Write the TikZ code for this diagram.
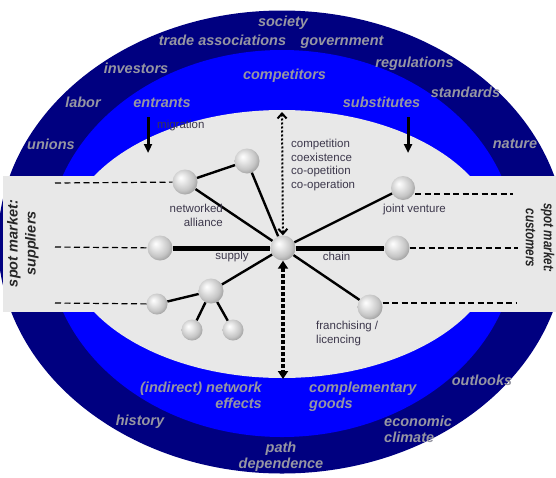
\documentclass[tikz,border=0pt]{standalone}
\usepackage{fontspec}
\setmainfont{Liberation Sans}
\usetikzlibrary{arrows.meta, calc}
\definecolor{ringnavy}{RGB}{0,0,128}
\definecolor{ringblue}{RGB}{0,0,255}
\definecolor{corefill}{RGB}{232,232,232}
\definecolor{ringtext}{RGB}{150,150,162}
\definecolor{labeltext}{RGB}{60,55,75}
\pgfdeclareradialshading{sphere}{\pgfpoint{-9bp}{9bp}}{%
  color(0bp)=(white); color(8bp)=(gray!15); color(22bp)=(gray!45);
  color(30bp)=(gray!75); color(50bp)=(gray!90)}

\begin{document}
\begin{tikzpicture}[
    x=1pt, y=-1pt,
    ringlabel/.style={font=\fontsize{14.5}{16}\selectfont\bfseries\itshape, text=ringtext, inner sep=0pt, anchor=base},
    marketlabel/.style={font=\fontsize{14.5}{18}\selectfont\bfseries\itshape, text=black!85, align=center, inner sep=0pt},
    smalllabel/.style={font=\fontsize{11.5}{13.5}\selectfont, text=labeltext, inner sep=0pt, anchor=base},
    ball/.style={circle, inner sep=0pt, minimum size=25pt, shading=sphere},
    smallball/.style={ball, minimum size=21pt},
    link/.style={line width=2.4pt},
    chainlink/.style={line width=5pt},
    spotline/.style={line width=1.2pt, dash pattern=on 6pt off 3.5pt},
    migrate/.style={-{Triangle[length=9pt,width=8pt]}, line width=3pt}
]
\useasboundingbox (0,0) rectangle (556,477);
\clip (0,0) rectangle (556,477);

% Ringe und Marktband
\fill[ringnavy] (282,242) ellipse [x radius=284, y radius=231.5];
\fill[ringblue] (282,243.5) ellipse [x radius=234, y radius=193.5];
\fill[corefill] (282,244) ellipse [x radius=218, y radius=134];
\fill[corefill] (3,176) rectangle (560,312);

% Aeusserer Ring
\node[ringlabel] (society) at (283,26) {society};
\node[ringlabel] (tradeassoc) at (222.5,45) {trade associations};
\node[ringlabel] (government) at (342,45) {government};
\node[ringlabel] (investors) at (136,73) {investors};
\node[ringlabel] (regulations) at (414.5,67) {regulations};
\node[ringlabel] (labor) at (83,107) {labor};
\node[ringlabel] (standards) at (465.5,97) {standards};
\node[ringlabel] (unions) at (51,149) {unions};
\node[ringlabel] (nature) at (515,148) {nature};
\node[ringlabel] (outlooks) at (482,385) {outlooks};
\node[ringlabel] (history) at (140,425) {history};
\node[ringlabel, align=left, anchor=base west] (climate) at (384,442) {economic\\climate};
\node[ringlabel, align=center] (pathdep) at (281,468) {path\\dependence};

% Mittlerer Ring
\node[ringlabel] (competitors) at (284.5,79) {competitors};
\node[ringlabel] (entrants) at (162,107) {entrants};
\node[ringlabel] (substitutes) at (381.5,107) {substitutes};
\node[ringlabel, align=right, anchor=base east] (networkfx) at (262,408) {(indirect) network\\effects};
\node[ringlabel, align=left, anchor=base west] (complgoods) at (309,408) {complementary\\goods};

% Spotmaerkte
\node[marketlabel, rotate=90] (suppliers) at (23,243.5) {spot market:\\suppliers};
\node[marketlabel, rotate=-90, xscale=0.8] (customers) at (540,238) {spot market:\\customers};

% Kugeln
\node[ball] (hub) at (283,248) {};
\node[ball] (allyA) at (185,182) {};
\node[ball] (allyB) at (247,161) {};
\node[ball] (supplier) at (160,248) {};
\node[ball] (customer) at (397,248) {};
\node[ball, minimum size=24pt] (venture) at (403,188) {};
\node[ball] (franchise) at (370,307) {};
\node[ball] (cluster) at (211,291) {};
\node[smallball] (clusterW) at (157,304) {};
\node[smallball] (clusterSW) at (192,330) {};
\node[smallball] (clusterSE) at (233,330) {};

% Verbindungen
\draw[link] (allyA) -- (allyB);
\draw[link] (allyA) -- (hub);
\draw[link] (allyB) -- (hub);
\draw[chainlink] (supplier) -- (hub);
\draw[chainlink] (hub) -- (customer);
\draw[link] (hub) -- (venture);
\draw[link] (hub) -- (franchise);
\draw[link] (hub) -- (cluster);
\draw[link] (cluster) -- (clusterW);
\draw[link] (cluster) -- (clusterSW);
\draw[link] (cluster) -- (clusterSE);

% Linien zum Spotmarkt
\coordinate (spotSA) at (55,183);
\coordinate (spotSB) at (55,247);
\coordinate (spotSC) at (55,303);
\coordinate (spotCA) at (513,194);
\coordinate (spotCB) at (518,248);
\coordinate (spotCC) at (516,303);
\draw[spotline] (spotSA) -- (allyA);
\draw[spotline] (spotSB) -- (supplier);
\draw[spotline] (spotSC) -- (clusterW);
\draw[spotline] (venture.east |- spotCA) -- (spotCA);
\draw[spotline] (customer) -- (spotCB);
\draw[spotline] (franchise.east |- spotCC) -- (spotCC);

% Pfeile
\coordinate (entryW) at (148,117);
\coordinate (entryWend) at (148,153);
\coordinate (entryE) at (408,117);
\coordinate (entryEend) at (408,153);
\draw[migrate] (entryW) -- (entryWend);
\draw[migrate] (entryE) -- (entryEend);
\coordinate (rivalry) at (282,112);
\coordinate (complement) at (283,379);
\draw[line width=2pt, dotted, {Straight Barb[length=5pt,width=9pt]}-{Straight Barb[length=5pt,width=9pt]}] (rivalry) -- (hub);
\draw[line width=4pt, dash pattern=on 4pt off 2pt, {Triangle[length=8pt,width=10pt]}-{Triangle[length=8pt,width=10pt]}] (hub) -- (complement);

% Beschriftungen innen
\node[smalllabel, anchor=base west] (migration) at (157,128) {migration};
\node[smalllabel, anchor=base west, align=left] (modes) at (291,188) {competition\\coexistence\\co-opetition\\co-operation};
\node[smalllabel, anchor=base east, align=right] (alliance) at (223,226) {networked\\alliance};
\node[smalllabel] (jvlabel) at (414.5,212) {joint venture};
\node[smalllabel] (supplylabel) at (232,259) {supply};
\node[smalllabel] (chainlabel) at (336.5,260) {chain};
\node[smalllabel, anchor=base west, align=left] (franlabel) at (316,343) {franchising /\\licencing};

\end{tikzpicture}
\end{document}
